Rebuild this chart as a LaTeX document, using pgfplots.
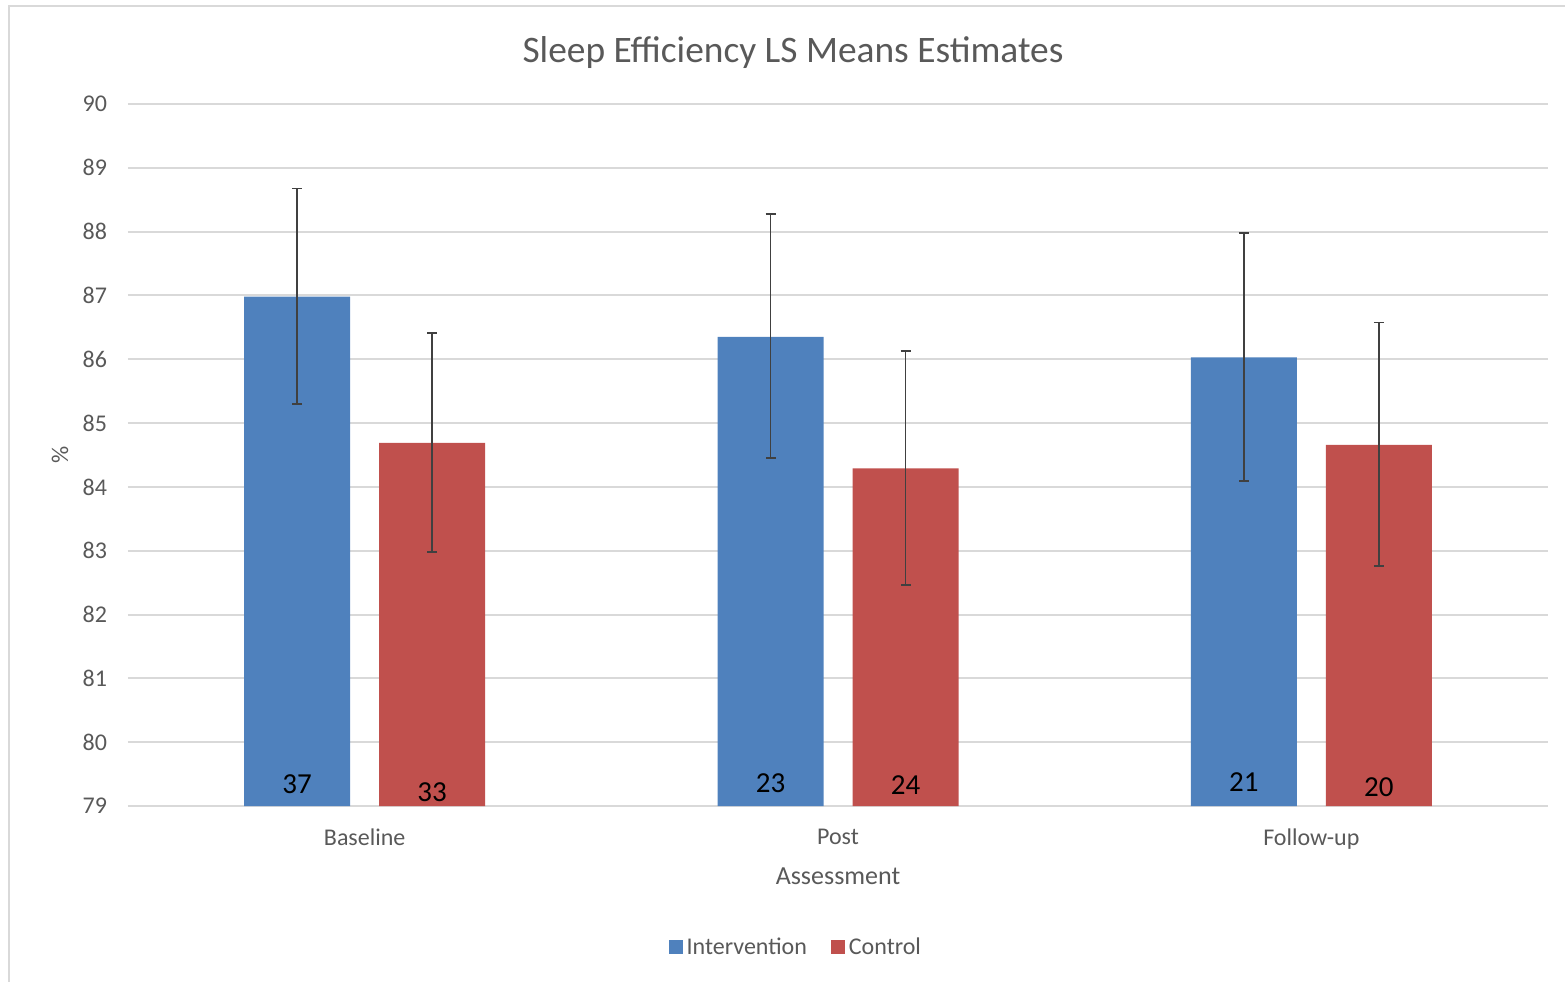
\documentclass[border=0pt]{standalone}
\usepackage{fontspec}
\setmainfont{Carlito}
\usepackage{pgfplots}
\pgfplotsset{compat=1.18}
\definecolor{cblue}{HTML}{4F81BD}
\definecolor{cred}{HTML}{C0504D}
\definecolor{tgray}{HTML}{595959}
\definecolor{ggray}{HTML}{D9D9D9}
\definecolor{egray}{HTML}{404040}
\begin{document}
\begin{tikzpicture}
\path[use as bounding box] (0,0) rectangle (782.5pt,-490.5pt);
\draw[ggray, line width=1pt] (4.5pt,-495pt) -- (4.5pt,-3pt) -- (790pt,-3pt);
\node[text=tgray, font=\fontsize{18.7}{21}\selectfont] at (396.5pt,-26.5pt) {Sleep Efficiency LS Means Estimates};
\begin{axis}[
  at={(64pt,-403pt)}, anchor=south west,
  width=710pt, height=351pt, scale only axis,
  xmin=-0.5, xmax=2.5, ymin=79, ymax=90,
  ytick={79,80,...,90},
  xtick={0,1,2}, xticklabels={Baseline,Post,Follow-up},
  major tick length=0pt,
  ymajorgrids, grid style={ggray, line width=1pt},
  axis line style={draw=none},
  tick label style={font=\fontsize{12}{14}\selectfont, text=tgray},
  yticklabel style={xshift=-7pt},
  xticklabel style={yshift=-8pt},
  /pgf/number format/assume math mode=true,
  xlabel={Assessment},
  xlabel style={at={(axis description cs:0.5,0)}, anchor=center, yshift=-35pt, font=\fontsize{13}{15}\selectfont, text=tgray},
  ylabel={\%},
  ylabel style={at={(axis description cs:-0.0479,0.5)}, anchor=center, font=\fontsize{12}{14}\selectfont, text=tgray},
  ybar, bar width=53pt,
  legend style={at={(axis description cs:0.471,-0.2015)}, anchor=center, draw=none, font=\fontsize{12}{14}\selectfont, text=tgray, /tikz/every even column/.append style={column sep=10pt}},
  legend columns=2,
  legend image code/.code={\fill[#1] (0pt,-3.5pt) rectangle (7pt,3.5pt);},
  error bars/y dir=both, error bars/y explicit,
  error bars/error bar style={egray, line width=0.75pt},
  error bars/error mark options={egray, mark size=2.5pt, line width=0.75pt, rotate=90},
]
\addplot[fill=cblue, draw=none, bar shift=-33.75pt] coordinates {
  (0,86.98) += (0,1.70) -= (0,1.68)
  (1,86.35) += (0,1.93) -= (0,1.90)
  (2,86.03) += (0,1.95) -= (0,1.94)
};
\addplot[fill=cred, draw=none, bar shift=33.75pt] coordinates {
  (0,84.69) += (0,1.72) -= (0,1.71)
  (1,84.29) += (0,1.84) -= (0,1.83)
  (2,84.66) += (0,1.92) -= (0,1.90)
};
\legend{Intervention, Control}
\node[font=\fontsize{14.5}{16}\selectfont] at (axis cs:-0.1426,79.345) {37};
\node[font=\fontsize{14.5}{16}\selectfont] at (axis cs:0.1426,79.22) {33};
\node[font=\fontsize{14.5}{16}\selectfont] at (axis cs:0.8574,79.36) {23};
\node[font=\fontsize{14.5}{16}\selectfont] at (axis cs:1.1426,79.33) {24};
\node[font=\fontsize{14.5}{16}\selectfont] at (axis cs:1.8574,79.38) {21};
\node[font=\fontsize{14.5}{16}\selectfont] at (axis cs:2.1426,79.30) {20};
\end{axis}
\end{tikzpicture}
\end{document}
